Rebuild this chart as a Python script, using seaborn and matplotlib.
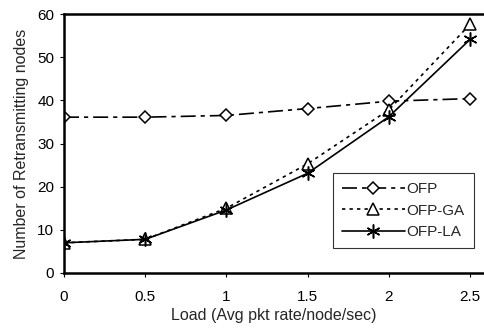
import pandas as pd
import seaborn as sns
import matplotlib.pyplot as plt

# data
load = [0, 0.5, 1, 1.5, 2, 2.5]
ofp = [36.1, 36.1, 36.5, 38.1, 39.8, 40.4]
ofp_ga = [7.0, 7.8, 15.0, 25.3, 37.8, 57.6]
ofp_la = [7.0, 7.8, 14.6, 23.1, 36.2, 54.1]
series_names = ["OFP", "OFP-GA", "OFP-LA"]

df = pd.DataFrame({"load": load, "OFP": ofp, "OFP-GA": ofp_ga, "OFP-LA": ofp_la})

sns.set_style("ticks")
plt.rcParams['font.family'] = ['Liberation Sans', 'DejaVu Sans']

fig = plt.figure(figsize=(4.84, 3.34), dpi=100)
ax = fig.add_axes([64 / 484, 61 / 334, 420 / 484, 259 / 334])

styles = {
    "OFP": dict(dashes=(9, 3, 2.5, 3), marker="D", markersize=6),
    "OFP-GA": dict(dashes=(2, 2.5), marker="^", markersize=8),
    "OFP-LA": dict(dashes=None, marker=(6, 2, 0), markersize=10),
}

for name in series_names:
    st = styles[name]
    kw = dict(color="black", linewidth=1.2, marker=st["marker"],
              markersize=st["markersize"], markerfacecolor="white",
              markeredgecolor="black", markeredgewidth=1.1, label=name)
    sns.lineplot(data=df, x="load", y=name, ax=ax, **kw)
    line = ax.get_lines()[-1]
    if st["dashes"] is not None:
        line.set_dashes(st["dashes"])
    else:
        line.set_linestyle("-")

ax.set_xlim(0, 2.586)
ax.set_ylim(0, 60)
ax.set_xticks([0, 0.5, 1, 1.5, 2, 2.5])
ax.set_xticklabels(["0", "0.5", "1", "1.5", "2", "2.5"])
ax.set_yticks(range(0, 61, 10))
ax.tick_params(axis="both", labelsize=11, length=3, width=0.8, colors="black")
ax.tick_params(axis="x", pad=9)
ax.tick_params(axis="y", pad=4)
ax.set_xlabel("Load (Avg pkt rate/node/sec)", fontsize=11.5, labelpad=3)
ax.set_ylabel("Number of Retransmitting nodes", fontsize=11.5, labelpad=6)

for side in ["left", "bottom", "top"]:
    ax.spines[side].set_visible(True)
    ax.spines[side].set_linewidth(1.8)
    ax.spines[side].set_color("black")
ax.spines["right"].set_visible(False)

leg = ax.legend(loc="lower right", bbox_to_anchor=(0.975, 0.095),
                fontsize=11, frameon=True, fancybox=False, handlelength=4.1,
                handletextpad=0.1, borderpad=0.6, labelspacing=0.5,
                borderaxespad=0, edgecolor="black")
leg.get_frame().set_linewidth(0.8)

fig.savefig("out.png", dpi=100)
